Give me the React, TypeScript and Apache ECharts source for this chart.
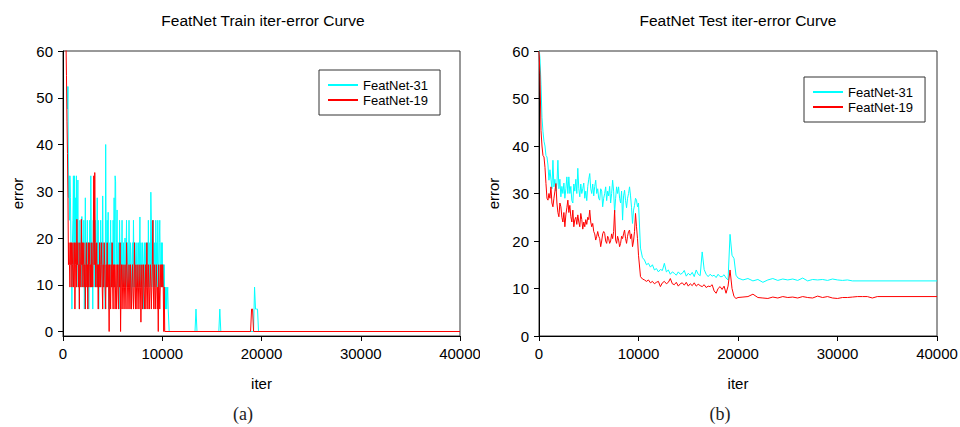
import React, { useEffect, useRef } from "react";
import * as echarts from "echarts";

const FONT = "'Liberation Sans', Arial, sans-serif";
const COLOR_31 = "#00FFFF";
const COLOR_19 = "#FF0000";
const SERIES_NAMES = ["FeatNet-31", "FeatNet-19"];
const X_TICKS = [0, 10000, 20000, 30000, 40000];
const Y_TICKS = [0, 10, 20, 30, 40, 50, 60];

// ---------- Train (a) : sampled every 50 iterations ----------
const TRAIN_STEP = 50;
const train31Start = 400;
const train31Dense = [
  52.4, 47.6, 52.4, 28.6, 33.3, 23.8, 33.3, 28.6, 19.0, 14.3, 4.8, 19.0, 23.8, 33.3, 14.3, 33.3, 19.0, 28.6, 14.3, 33.3,
  9.5, 23.8, 32.4, 14.3, 19.0, 4.8, 23.8, 14.3, 19.0, 9.5, 24.6, 14.3, 19.0, 9.5, 23.8, 4.8, 14.3, 28.6, 9.5, 19.0,
  14.3, 23.8, 9.5, 19.0, 4.8, 14.3, 23.8, 9.5, 33.3, 33.3, 9.5, 19.0, 4.8, 23.8, 14.3, 19.0, 9.5, 23.8, 14.3, 9.5,
  19.0, 28.6, 9.5, 23.8, 4.8, 14.3, 19.0, 9.5, 23.8, 14.3, 19.0, 9.5, 29.0, 14.3, 19.0, 9.5, 14.3, 4.8, 40.0, 19.0,
  9.5, 23.8, 14.3, 25.5, 4.8, 19.0, 9.5, 14.3, 23.8, 9.5, 19.0, 14.3, 9.5, 23.8, 14.3, 28.6, 9.5, 33.3, 32.0, 14.3,
  19.0, 26.0, 9.5, 14.3, 19.0, 4.8, 23.8, 14.3, 9.5, 19.0, 14.3, 23.8, 9.5, 14.3, 19.0, 9.5, 14.3, 20.0, 9.5, 14.3,
  23.8, 9.5, 19.0, 14.3, 9.5, 23.8, 14.3, 9.5, 19.0, 14.3, 4.8, 14.3, 19.0, 9.5, 23.8, 14.3, 9.5, 19.0, 14.3, 9.5,
  14.3, 19.0, 9.5, 14.3, 19.0, 9.5, 14.3, 24.5, 9.5, 19.0, 14.3, 9.5, 19.0, 14.3, 4.8, 14.3, 19.0, 9.5, 14.3, 19.0,
  9.5, 14.3, 19.0, 9.5, 23.8, 14.3, 9.5, 19.0, 14.3, 29.8, 23.8, 9.5, 19.0, 14.3, 23.8, 9.5, 19.0, 14.3, 9.5, 23.8,
  14.3, 19.0, 9.5, 23.8, 14.3, 9.5, 19.0, 23.8, 14.3, 9.5, 19.0, 14.3, 19.0, 9.5, 14.3, 9.5, 14.3, 4.8, 9.5, 4.8,
  9.5, 4.8, 4.8, 9.5, 4.8, 4.8, 0, 0, 0,
];
const train31TailIter = [13300, 13400, 13500, 15700, 15800, 15900, 19200, 19300, 19400, 19500, 19600, 19700, 40000];
const train31TailErr = [0, 4.8, 0, 0, 4.8, 0, 0, 9.5, 4.8, 4.8, 4.8, 0, 0];

const train19Start = 300;
const train19Dense = [
  62.0, 54.7, 45.0, 38.1, 28.6, 14.3, 19.0, 14.3, 9.5, 19.0, 14.3, 19.0, 9.5, 14.3, 19.0, 9.5, 14.3, 19.0, 4.8, 14.3,
  19.0, 9.5, 24.0, 14.3, 19.0, 9.5, 14.3, 4.8, 19.0, 14.3, 9.5, 24.0, 14.3, 19.0, 9.5, 14.3, 19.0, 9.5, 14.3, 4.8,
  14.3, 19.0, 9.5, 14.3, 4.8, 19.0, 9.5, 14.3, 19.0, 9.5, 14.3, 9.5, 19.0, 14.3, 9.5, 19.0, 33.3, 14.3, 34.0, 19.0,
  9.5, 14.3, 19.0, 9.5, 14.3, 4.8, 14.3, 9.5, 19.0, 14.3, 9.5, 14.3, 19.0, 9.5, 4.8, 14.3, 9.5, 19.0, 14.3, 9.5,
  4.8, 14.3, 9.5, 19.0, 9.5, 14.3, 9.5, 0, 14.3, 9.5, 4.8, 14.3, 9.5, 19.0, 9.5, 4.8, 14.3, 9.5, 14.3, 4.8,
  9.5, 14.3, 4.8, 9.5, 14.3, 9.5, 4.8, 14.3, 9.5, 19.0, 0, 9.5, 14.3, 4.8, 9.5, 14.3, 9.5, 4.8, 9.5, 14.3,
  9.5, 4.8, 19.0, 14.3, 9.5, 4.8, 9.5, 14.3, 9.5, 4.8, 14.3, 9.5, 4.8, 9.5, 14.3, 9.5, 4.8, 9.5, 19.0, 9.5,
  4.8, 14.3, 9.5, 4.8, 9.5, 14.3, 9.5, 4.8, 9.5, 14.3, 9.5, 2.0, 9.5, 14.3, 4.8, 9.5, 14.3, 9.5, 4.8, 9.5,
  14.3, 4.8, 9.5, 19.0, 9.5, 4.8, 14.3, 9.5, 4.8, 9.5, 14.3, 9.5, 4.8, 9.5, 14.3, 23.8, 9.5, 4.8, 14.3, 9.5,
  4.8, 9.5, 14.3, 9.5, 4.8, 9.5, 0, 14.3, 9.5, 4.8, 9.5, 14.3, 9.5, 14.3, 9.5, 14.3, 9.5, 0, 9.5, 0,
  0,
];
const train19TailIter = [18900, 19000, 19100, 19200, 40000];
const train19TailErr = [0, 4.8, 4.8, 0, 0];

// ---------- Test (b) ----------
const TEST_STEP_A = 100; // 0 .. 9900
const TEST_STEP_B = 200; // 10000 .. 20000
const test31A = [
  61, 58.4, 53, 46, 43, 41, 40, 38, 37.7, 36,
  32.8, 35, 33, 31, 37, 31.4, 33, 30.5, 32, 37,
  31, 33, 29.3, 31.5, 30, 32.2, 29, 31, 33.5, 30,
  33.5, 30, 31.5, 28.5, 28, 32, 30.5, 33, 30, 35.3,
  31, 29.3, 32, 30, 31, 32.2, 29, 30.5, 28.5, 31.5,
  33, 34.2, 31, 30, 32, 29.5, 31.5, 32.8, 30, 31,
  29, 28.6, 31, 30.5, 27.2, 29, 30, 31.4, 28.5, 30.5,
  29.5, 31.5, 28, 30, 32.8, 30.5, 25.9, 29, 31.4, 30,
  31.4, 29, 28, 30.5, 24.4, 29.5, 30.7, 28.5, 27, 29,
  30, 31.4, 29.5, 27, 23.7, 26.5, 27.5, 29, 28.6, 27.2,
];
const test31B = [
  28, 18.5, 16.5, 16, 15, 15.3, 14.5, 15, 13.9, 14.2, 13.5, 14, 13.8, 15.3, 13.5, 13.9, 13, 13.5, 13.2, 12.8,
  13.5, 13, 13.2, 13.8, 12.6, 13.2, 12.8, 13.4, 12.5, 13.9, 13, 12.7, 17.7, 14, 13, 12.5, 13, 12.6, 12.8, 12.3,
  13, 12.5, 12.5, 12.9, 12.2, 11.8, 21.4, 17, 16.3, 12.8, 12.2,
];
const test31TailIter = [
  20500, 21000, 21500, 22000, 22500, 23000, 23500, 24000, 24500, 25000, 25500, 26000,
  26500, 27000, 27500, 28000, 28500, 29000, 29500, 30000, 30500, 31000, 31500, 40000,
];
const test31TailErr = [
  11.8, 12.1, 11.6, 11.9, 11.3, 11.8, 12.1, 11.7, 12.0, 11.8, 12.0, 11.7,
  12.2, 11.6, 11.9, 11.8, 11.9, 11.7, 12.0, 11.8, 11.7, 11.8, 11.6, 11.6,
];

const test19A = [
  60, 55, 43.3, 40, 38, 37.7, 35.5, 32.1, 29, 28.6,
  30, 29, 31.4, 28, 27.2, 29, 30.5, 32.1, 28, 26,
  25.1, 28, 27.2, 25, 24, 26, 23, 25.5, 27, 28.6,
  26, 27.5, 25.1, 24, 26.5, 23, 24.5, 25, 23.5, 25.5,
  24, 23, 25.8, 24.5, 22.5, 24, 23, 24.5, 23.5, 25,
  24.5, 26.5, 24, 23, 23.7, 22, 21.5, 20.2, 21, 22,
  21, 20.5, 18.8, 20, 21.5, 22, 21.6, 20, 19.5, 21,
  20.5, 19.5, 20, 21.5, 20.5, 22, 26.5, 20.2, 19.5, 21,
  20.2, 18.8, 19.5, 21, 20.5, 21.5, 22.3, 20.5, 19.5, 21,
  22, 22.3, 20.5, 21.5, 18.8, 20, 22, 25.8, 23, 20.5,
];
const test19B = [
  17, 12.5, 12, 11.8, 11.5, 11.8, 11.2, 11.5, 11, 11.3, 11.5, 10.4, 11.2, 11.5, 11, 11.3, 12.1, 11, 10.8, 11.3,
  10.5, 11, 11.2, 10.7, 11.3, 10.5, 11, 10.6, 11.2, 10.5, 10.9, 10.6, 10.4, 10.8, 10.2, 10.5, 10.4, 10.8, 9.5, 9,
  10, 10.4, 9.8, 10.5, 9, 10.5, 13.9, 10, 8.3, 7.9, 8.1,
];
const test19TailIter = [
  20500, 21000, 21500, 22000, 22500, 23000, 23500, 24000, 24500, 25000, 25500, 26000, 26500, 27000,
  27500, 28000, 28500, 29000, 29500, 30000, 30500, 31000, 31500, 32000, 32500, 33000, 33500, 34000, 40000,
];
const test19TailErr = [
  8.2, 8.3, 8.8, 8.1, 8.0, 7.9, 8.2, 8.0, 8.3, 8.1, 8.2, 8.0, 8.3, 8.1,
  8.0, 8.4, 8.1, 8.3, 8.0, 7.9, 8.1, 8.1, 8.2, 8.3, 8.3, 8.3, 8.0, 8.3, 8.3,
];

type Segment = { start: number; step: number; values: number[] };

function buildSeries(segments: Segment[], tailIter: number[], tailErr: number[]) {
  const pts: number[][] = [];
  segments.forEach((s) => s.values.forEach((v, i) => pts.push([s.start + i * s.step, v])));
  tailIter.forEach((x, i) => pts.push([x, tailErr[i]]));
  return pts;
}

function makeOption(cfg: {
  title: string;
  titleX: number;
  panel: string;
  panelX: number;
  gridLeft: number;
  gridRight: number;
  yMin: number;
  legendLeft: number;
  legendTop: number;
  yNameGap: number;
  data31: number[][];
  data19: number[][];
}) {
  const axisText = { color: "#000", fontSize: 15, fontFamily: FONT };
  return {
    animation: false,
    backgroundColor: "#fff",
    grid: {
      left: cfg.gridLeft,
      right: cfg.gridRight,
      top: 51,
      bottom: 91,
      containLabel: false,
      outerBoundsMode: "none",
      show: true,
      borderColor: "#333",
      borderWidth: 1,
      backgroundColor: "transparent",
    },
    legend: {
      orient: "vertical",
      left: cfg.legendLeft,
      top: cfg.legendTop,
      icon: "rect",
      itemWidth: 30,
      itemHeight: 2,
      itemGap: 1,
      padding: [8, 12, 8, 9],
      borderColor: "#333",
      borderWidth: 1,
      backgroundColor: "#fff",
      textStyle: { color: "#000", fontSize: 13, fontFamily: FONT, lineHeight: 14 },
      data: SERIES_NAMES,
    },
    xAxis: {
      type: "value",
      min: 0,
      max: 40000,
      interval: 10000,
      name: "iter",
      nameLocation: "middle",
      nameGap: 40,
      nameTextStyle: axisText,
      axisLine: { show: true, onZero: false, lineStyle: { color: "#000", width: 1 } },
      axisTick: { show: true, inside: false, length: 5, lineStyle: { color: "#000" }, customValues: X_TICKS },
      axisLabel: { ...axisText, margin: 10, customValues: X_TICKS, formatter: (v: number) => String(v) },
      splitLine: { show: false },
    },
    yAxis: {
      type: "value",
      min: cfg.yMin,
      max: 60,
      name: "error",
      nameLocation: "middle",
      nameGap: cfg.yNameGap,
      nameTextStyle: axisText,
      axisLine: { show: true, onZero: false, lineStyle: { color: "#000", width: 1 } },
      axisTick: { show: true, inside: false, length: 5, lineStyle: { color: "#000" }, customValues: Y_TICKS },
      axisLabel: { ...axisText, margin: 10, customValues: Y_TICKS, formatter: (v: number) => String(v) },
      splitLine: { show: false },
    },
    series: [
      {
        name: SERIES_NAMES[0],
        type: "line",
        data: cfg.data31,
        symbol: "none",
        showSymbol: false,
        clip: true,
        lineStyle: { color: COLOR_31, width: 1 },
        itemStyle: { color: COLOR_31 },
        z: 2,
      },
      {
        name: SERIES_NAMES[1],
        type: "line",
        data: cfg.data19,
        symbol: "none",
        showSymbol: false,
        clip: true,
        lineStyle: { color: COLOR_19, width: 1 },
        itemStyle: { color: COLOR_19 },
        z: 3,
      },
    ],
    graphic: [
      {
        type: "text",
        x: cfg.titleX,
        y: 20,
        style: {
          text: cfg.title,
          font: `15.5px ${FONT}`,
          fill: "#000",
          textAlign: "center",
          textVerticalAlign: "middle",
          align: "center",
          verticalAlign: "middle",
        },
      },
      {
        type: "text",
        x: cfg.panelX,
        y: 414,
        style: {
          text: cfg.panel,
          font: `18px 'Liberation Serif', 'DejaVu Serif', serif`,
          fill: "#222",
          textAlign: "center",
          textVerticalAlign: "middle",
          align: "center",
          verticalAlign: "middle",
        },
      },
    ],
  };
}

function Chart({ option }: { option: any }) {
  const ref = useRef<HTMLDivElement>(null);
  useEffect(() => {
    if (!ref.current) return;
    const chart = echarts.init(ref.current, undefined, { renderer: "svg" });
    chart.setOption(option);
    return () => chart.dispose();
  }, [option]);
  return <div ref={ref} style={{ width: 480, height: 427, overflow: "hidden", flex: "0 0 480px" }} />;
}

const trainOption = makeOption({
  title: "FeatNet Train iter-error Curve",
  titleX: 263,
  panel: "(a)",
  panelX: 243,
  gridLeft: 63,
  gridRight: 20,
  yMin: -0.96,
  legendLeft: 319,
  legendTop: 70,
  yNameGap: 38,
  data31: buildSeries([{ start: train31Start, step: TRAIN_STEP, values: train31Dense }], train31TailIter, train31TailErr),
  data19: buildSeries([{ start: train19Start, step: TRAIN_STEP, values: train19Dense }], train19TailIter, train19TailErr),
});

const testOption = makeOption({
  title: "FeatNet Test iter-error Curve",
  titleX: 258,
  panel: "(b)",
  panelX: 240,
  gridLeft: 59,
  gridRight: 23,
  yMin: 0,
  legendLeft: 324,
  legendTop: 77,
  yNameGap: 36,
  data31: buildSeries(
    [
      { start: 0, step: TEST_STEP_A, values: test31A },
      { start: 10000, step: TEST_STEP_B, values: test31B },
    ],
    test31TailIter,
    test31TailErr
  ),
  data19: buildSeries(
    [
      { start: 0, step: TEST_STEP_A, values: test19A },
      { start: 10000, step: TEST_STEP_B, values: test19B },
    ],
    test19TailIter,
    test19TailErr
  ),
});

export default function App() {
  return (
    <div
      style={{
        position: "absolute",
        left: 0,
        top: 0,
        width: 960,
        height: 427,
        display: "flex",
        background: "#fff",
      }}
    >
      <Chart option={trainOption} />
      <Chart option={testOption} />
    </div>
  );
}
